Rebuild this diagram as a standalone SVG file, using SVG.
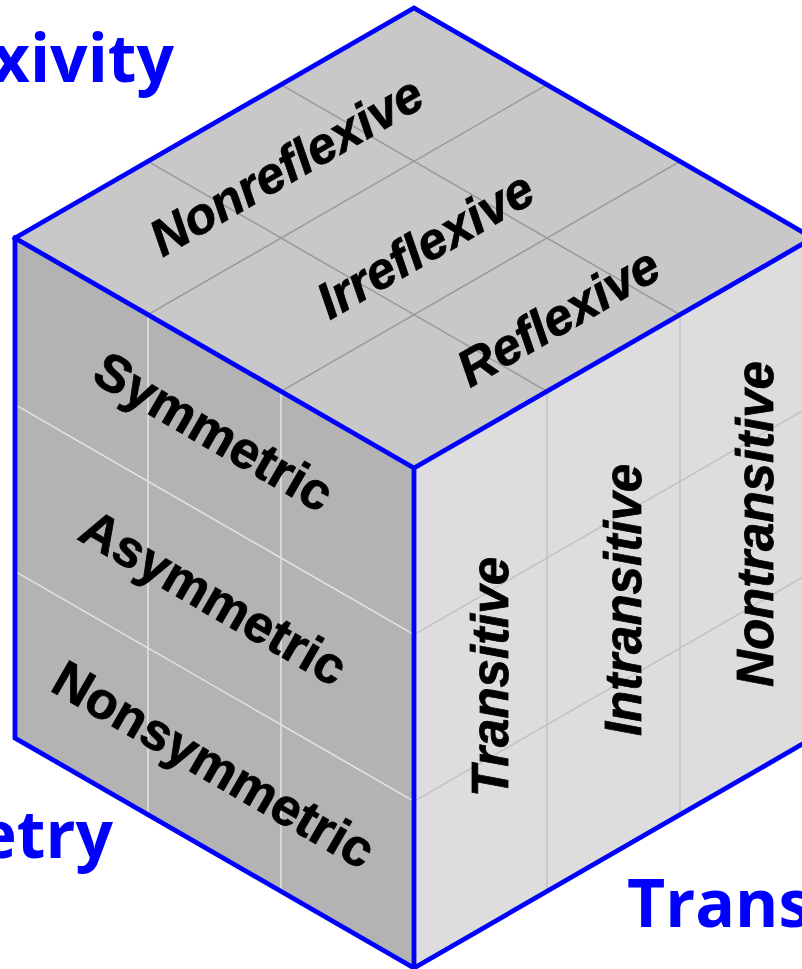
<svg xmlns="http://www.w3.org/2000/svg" width="802" height="969" viewBox="0 0 802 969">
  <style>
    .face-top { fill: #c8c8c8; }
    .face-left { fill: #b3b3b3; }
    .face-right { fill: #dddddd; }
    .grid-top { stroke: #999999; stroke-width: 1.5; fill: none; }
    .grid-left { stroke: #e4e4e4; stroke-width: 1.5; fill: none; }
    .grid-right { stroke: #c2c2c2; stroke-width: 1.5; fill: none; }
    .edge { stroke: #0000ff; stroke-width: 4.8; fill: none; stroke-linejoin: miter; stroke-linecap: square; }
    .lbl { font-family: "Liberation Sans", Arial, sans-serif; font-weight: bold; font-style: italic; font-size: 51px; fill: #000000; stroke: #000000; stroke-width: 0.8; text-anchor: middle; }
    .lbl-left { font-style: normal; font-size: 52px; }
    .axis { font-family: "Comic Sans MS", "Open Sans", sans-serif; font-weight: bold; font-size: 66px; fill: #0000ff; }
  </style>

  <!-- top face: reflexivity -->
  <g id="face-top">
    <polygon class="face-top" points="414,8 813,238 414,468 15,238"/>
    <path class="grid-top" d="M148,314.67 L547,84.67 M281,391.33 L680,161.33 M148,161.33 L547,391.33 M281,84.67 L680,314.67"/>
    <text class="lbl" transform="translate(295,181) rotate(-30)">Nonreflexive</text>
    <text class="lbl" transform="translate(434,260) rotate(-30)">Irreflexive</text>
    <text class="lbl" transform="translate(567,332) rotate(-30)">Reflexive</text>
  </g>

  <!-- left face: symmetry -->
  <g id="face-left">
    <polygon class="face-left" points="15,238 414,468 414,968 15,738"/>
    <path class="grid-left" d="M148,314.67 V814.67 M281,391.33 V891.33 M15,404.67 L414,634.67 M15,571.33 L414,801.33"/>
    <text class="lbl lbl-left" transform="translate(205,447) rotate(30)">Symmetric</text>
    <text class="lbl lbl-left" transform="translate(205,613) rotate(30)">Asymmetric</text>
    <text class="lbl lbl-left" transform="translate(205,780) rotate(30)">Nonsymmetric</text>
  </g>

  <!-- right face: transitivity -->
  <g id="face-right">
    <polygon class="face-right" points="414,468 813,238 813,738 414,968"/>
    <path class="grid-right" d="M547,391.33 V891.33 M680,314.67 V814.67 M414,634.67 L813,404.67 M414,801.33 L813,571.33"/>
    <text class="lbl" transform="translate(508,677) rotate(-90)">Transitive</text>
    <text class="lbl" transform="translate(641,600) rotate(-90)">Intransitive</text>
    <text class="lbl" transform="translate(773,524) rotate(-90)">Nontransitive</text>
  </g>

  <!-- cube outline -->
  <g id="edges">
    <path class="edge" d="M15,238 L414,8 L813,238 L813,738 L414,968 L15,738 Z"/>
    <path class="edge" d="M15,238 L414,468 L813,238 M414,468 L414,968"/>
  </g>

  <!-- axis titles, running past the canvas edges -->
  <g id="axis-titles">
    <text class="axis" x="174" y="82" text-anchor="end">Reflexivity</text>
    <text class="axis" x="113" y="858" text-anchor="end">Symmetry</text>
    <text class="axis" x="627" y="927" text-anchor="start">Transitivity</text>
  </g>
</svg>
